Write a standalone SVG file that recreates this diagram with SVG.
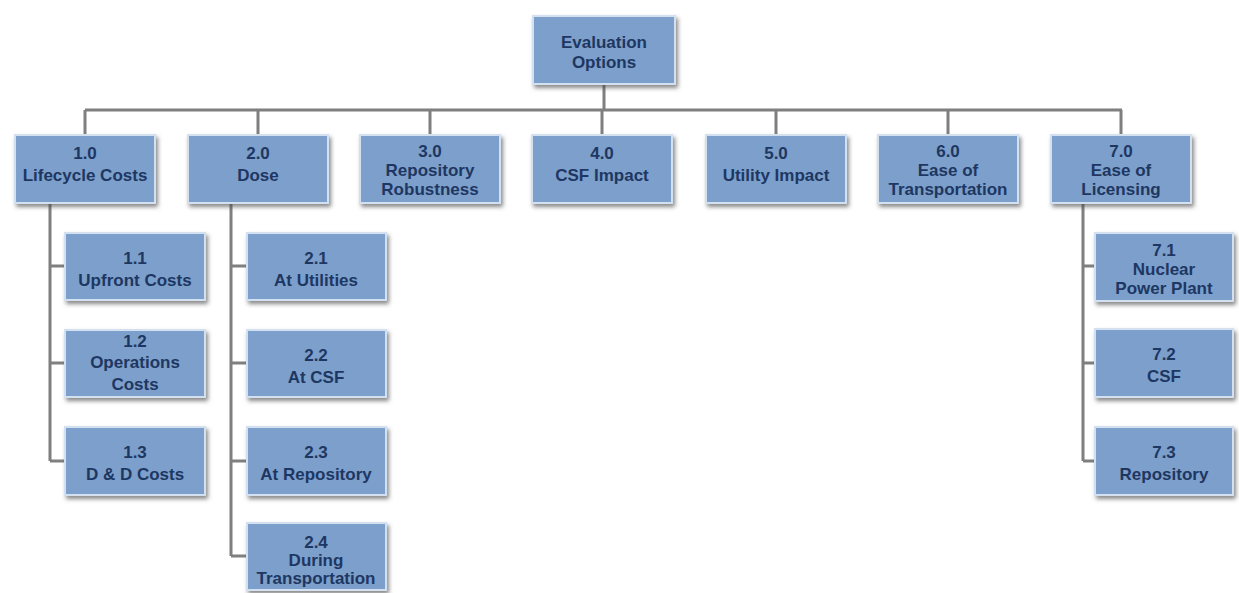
<svg xmlns="http://www.w3.org/2000/svg" width="1239" height="593" viewBox="0 0 1239 593">
<defs>
<filter id="sh" x="-10%" y="-15%" width="125%" height="140%">
<feDropShadow dx="2" dy="3" stdDeviation="2.2" flood-color="#4a4a4a" flood-opacity="0.65"/>
</filter>
<style>
.box{fill:#7b9fcb;stroke:#d3e0ef;stroke-width:2;filter:url(#sh)}
.t{font-family:"Liberation Sans",Arial,sans-serif;font-weight:bold;font-size:17px;fill:#1e3762;text-anchor:middle}
.c{stroke:#7f7f7f;stroke-width:3;fill:none}
</style>
</defs>
<rect width="1239" height="593" fill="#ffffff"/>
<g id="connectors">
<path class="c" d="M604 84V110M85 110H1122M85 110V135M258 110V135M430 110V135M602 110V135M776 110V135M948 110V135M1121 110V135"/>
<path class="c" d="M50 203V461M50 266H65M50 363H65M50 461H65"/>
<path class="c" d="M231 203V556M231 266H247M231 363H247M231 461H247M231 556H247"/>
<path class="c" d="M1083 203V461M1083 266H1095M1083 363H1095M1083 461H1095"/>
</g>
<g id="n0"><rect class="box" x="533" y="16" width="142" height="68"/><text class="t" x="604" y="48">Evaluation</text><text class="t" x="604" y="68">Options</text></g>
<g id="n1"><rect class="box" x="15" y="135" width="140" height="68"/><text class="t" x="85" y="159">1.0</text><text class="t" x="85" y="181">Lifecycle Costs</text></g>
<g id="n2"><rect class="box" x="188" y="135" width="140" height="68"/><text class="t" x="258" y="159">2.0</text><text class="t" x="258" y="181">Dose</text></g>
<g id="n3"><rect class="box" x="360" y="135" width="140" height="68"/><text class="t" x="430" y="157">3.0</text><text class="t" x="430" y="176">Repository</text><text class="t" x="430" y="195">Robustness</text></g>
<g id="n4"><rect class="box" x="532" y="135" width="140" height="68"/><text class="t" x="602" y="159">4.0</text><text class="t" x="602" y="181">CSF Impact</text></g>
<g id="n5"><rect class="box" x="706" y="135" width="140" height="68"/><text class="t" x="776" y="159">5.0</text><text class="t" x="776" y="181">Utility Impact</text></g>
<g id="n6"><rect class="box" x="878" y="135" width="140" height="68"/><text class="t" x="948" y="157">6.0</text><text class="t" x="948" y="176">Ease of</text><text class="t" x="948" y="195">Transportation</text></g>
<g id="n7"><rect class="box" x="1051" y="135" width="140" height="68"/><text class="t" x="1121" y="157">7.0</text><text class="t" x="1121" y="176">Ease of</text><text class="t" x="1121" y="195">Licensing</text></g>
<g id="n11"><rect class="box" x="65" y="233" width="140" height="67"/><text class="t" x="135" y="264">1.1</text><text class="t" x="135" y="286">Upfront Costs</text></g>
<g id="n12"><rect class="box" x="65" y="330" width="140" height="67"/><text class="t" x="135" y="347">1.2</text><text class="t" x="135" y="368">Operations</text><text class="t" x="135" y="390">Costs</text></g>
<g id="n13"><rect class="box" x="65" y="427" width="140" height="68"/><text class="t" x="135" y="458">1.3</text><text class="t" x="135" y="480">D &amp; D Costs</text></g>
<g id="n21"><rect class="box" x="247" y="233" width="139" height="67"/><text class="t" x="316" y="264">2.1</text><text class="t" x="316" y="286">At Utilities</text></g>
<g id="n22"><rect class="box" x="247" y="330" width="139" height="67"/><text class="t" x="316" y="361">2.2</text><text class="t" x="316" y="383">At CSF</text></g>
<g id="n23"><rect class="box" x="247" y="427" width="139" height="68"/><text class="t" x="316" y="458">2.3</text><text class="t" x="316" y="480">At Repository</text></g>
<g id="n24"><rect class="box" x="247" y="523" width="139" height="67"/><text class="t" x="316" y="548">2.4</text><text class="t" x="316" y="566">During</text><text class="t" x="316" y="584">Transportation</text></g>
<g id="n71"><rect class="box" x="1095" y="233" width="138" height="68"/><text class="t" x="1164" y="256">7.1</text><text class="t" x="1164" y="275">Nuclear</text><text class="t" x="1164" y="294">Power Plant</text></g>
<g id="n72"><rect class="box" x="1095" y="329" width="138" height="68"/><text class="t" x="1164" y="360">7.2</text><text class="t" x="1164" y="382">CSF</text></g>
<g id="n73"><rect class="box" x="1095" y="427" width="138" height="68"/><text class="t" x="1164" y="458">7.3</text><text class="t" x="1164" y="480">Repository</text></g>
</svg>
